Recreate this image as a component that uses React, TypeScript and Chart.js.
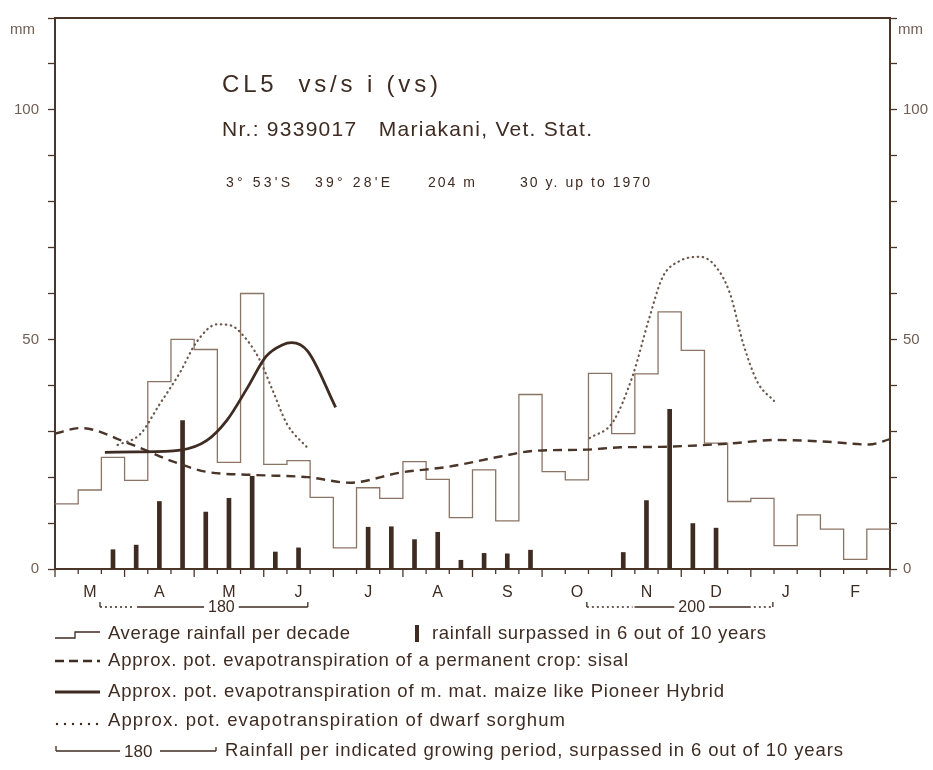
import React, { useEffect, useRef } from 'react';
import { Chart, registerables } from 'chart.js';

Chart.register(...registerables);

// ---------- data ----------
const MONTHS = ['M', 'A', 'M', 'J', 'J', 'A', 'S', 'O', 'N', 'D', 'J', 'F'];
const Y_LABELS = [0, 50, 100];

// average rainfall per decade (36 decades, March .. February), mm
const DECADE_RAIN = [
  14.2, 17.2, 24.3, 19.3, 40.8, 50, 47.8, 23.2, 60, 22.8, 23.6, 15.6,
  4.6, 17.7, 15.4, 23.4, 19.5, 11.2, 21.6, 10.5, 38, 21.2, 19.4, 42.6,
  29.5, 42.5, 56, 47.6, 27.4, 14.7, 15.4, 5.1, 11.8, 8.7, 2.1, 8.7,
];

// rainfall surpassed in 6 out of 10 years, per decade, mm
const RAIN_6_OF_10 = [
  null, null, 4.2, 5.2, 14.7, 32.3, 12.4, 15.4, 20.2, 3.7, 4.6, null,
  null, 9.1, 9.2, 6.4, 8, 1.9, 3.4, 3.3, 4.1, null, null, null,
  3.6, 14.9, 34.8, 9.9, 8.9, null, null, null, null, null, null, null,
];

// pot. evapotranspiration, permanent crop sisal (x in decades)
const SISAL_X = [0, 1.1, 3.2, 5.1, 6.5, 8.5, 10.9, 12.7, 14.9, 17, 19.2, 20.6, 22.9, 24.4, 26.1, 29, 31.1, 33.3, 35.1, 36];
const SISAL_Y = [29.5, 30.7, 27.3, 23.4, 21.2, 20.5, 20, 18.8, 21, 22.3, 24.5, 25.7, 26, 26.5, 26.6, 27.3, 28.1, 27.7, 27.1, 28.3];

// pot. evapotranspiration, m. mat. maize
const MAIZE_X = [2.15, 3.5, 5.4, 6.55, 7.4, 8.3, 9.1, 9.8, 10.2, 10.9, 12.1];
const MAIZE_Y = [25.4, 25.5, 25.9, 28, 32.3, 39.5, 46.3, 48.8, 49.3, 47.4, 35.2];

// pot. evapotranspiration, dwarf sorghum (two seasons)
const SORGHUM1_X = [2.7, 3.66, 4.5, 5.4, 6.1, 7.0, 7.6, 8.0, 8.8, 9.4, 10.0, 10.9];
const SORGHUM1_Y = [27, 29.3, 35.8, 42.9, 49.4, 53.3, 53, 51.5, 45.8, 38.7, 31.6, 26.3];
const SORGHUM2_X = [23.05, 24.05, 24.9, 25.6, 26.2, 26.9, 27.8, 28.5, 29.1, 29.7, 30.3, 31.0];
const SORGHUM2_Y = [28.5, 32, 42, 54.3, 63.6, 67, 68, 65.8, 60, 48.6, 40.6, 36.6];

// growing periods: rainfall surpassed in 6 out of 10 years (mm), extents in decades
const PERIOD_VALUES = ['180', '200'];
const PERIOD_START = [1.94, 22.93];
const PERIOD_DOT_END = [3.45, 24.9];
const PERIOD_DOT_TAIL = [null, 30.0];
const PERIOD_END = [10.9, 30.95];

// ---------- style ----------
const FONT = '"Liberation Sans", Arial, Helvetica, sans-serif';
const DARK = '#3e2b21';
const AXIS = '#4a3529';
const HIST = '#8c7465';
const DOTS = '#6b574b';
const GRAY = '#6f5f55';

function drawText(ctx, s, x, y, size, width, color, weight = 'normal') {
  ctx.save();
  ctx.font = `${weight} ${size}px ${FONT}`;
  ctx.fillStyle = color;
  ctx.textBaseline = 'middle';
  ctx.textAlign = 'left';
  const nat = ctx.measureText(s).width;
  if (width && width > nat && 'letterSpacing' in ctx && s.length > 1) {
    const sp = (width - nat) / (s.length - 1);
    ctx.letterSpacing = `${sp}px`;
    ctx.fillText(s, x, y);
  } else if (width) {
    ctx.translate(x, y);
    ctx.scale(width / nat, 1);
    ctx.fillText(s, 0, 0);
  } else {
    ctx.fillText(s, x, y);
  }
  ctx.restore();
}

function line(ctx, x1, y1, x2, y2, w, color, dash = []) {
  ctx.save();
  ctx.strokeStyle = color;
  ctx.lineWidth = w;
  ctx.setLineDash(dash);
  ctx.beginPath();
  ctx.moveTo(x1, y1);
  ctx.lineTo(x2, y2);
  ctx.stroke();
  ctx.restore();
}

const decorPlugin = {
  id: 'decor',
  beforeDraw(chart) {
    const ctx = chart.ctx;
    ctx.save();
    ctx.fillStyle = '#ffffff';
    ctx.fillRect(0, 0, chart.width, chart.height);
    ctx.restore();
  },
  afterDraw(chart) {
    const ctx = chart.ctx;
    const { left, right, top, bottom } = chart.chartArea;
    const xs = chart.scales.x;
    const px = (u) => xs.getPixelForValue(u);

    // top frame
    line(ctx, left - 1, top, right + 1, top, 2, AXIS);

    // decade ticks on x axis
    for (let i = 0; i <= 36; i++) {
      const p = px(i);
      line(ctx, p, bottom, p, bottom + (i % 3 === 0 ? 8 : 5), 1.3, AXIS);
    }

    // mm labels
    drawText(ctx, 'mm', 10, 30, 15, 0, GRAY);
    drawText(ctx, 'mm', 898, 30, 15, 0, GRAY);

    // title block
    drawText(ctx, 'CL5  vs/s i (vs)', 222, 85, 24, 216, DARK);
    drawText(ctx, 'Nr.: 9339017   Mariakani, Vet. Stat.', 222, 130, 21, 370, DARK);
    drawText(ctx, "3° 53'S", 226, 183, 14, 64, DARK);
    drawText(ctx, "39° 28'E", 315, 183, 14, 75, DARK);
    drawText(ctx, '204 m', 428, 183, 14, 47, DARK);
    drawText(ctx, '30 y. up to 1970', 520, 183, 14, 130, DARK);

    // growing period brackets
    const by = 607;
    for (let k = 0; k < PERIOD_VALUES.length; k++) {
      const s = px(PERIOD_START[k]);
      const d = px(PERIOD_DOT_END[k]);
      const e = px(PERIOD_END[k]);
      const tail = PERIOD_DOT_TAIL[k] != null ? px(PERIOD_DOT_TAIL[k]) : e;
      ctx.save();
      ctx.font = `16px ${FONT}`;
      const tw = ctx.measureText(PERIOD_VALUES[k]).width;
      ctx.restore();
      const mid = (d + tail) / 2;
      line(ctx, s, by - 5, s, by, 1.3, DARK);
      line(ctx, s, by, d, by, 1.3, DARK, [2, 3]);
      line(ctx, d + 2, by, mid - tw / 2 - 4, by, 1.3, DARK);
      drawText(ctx, PERIOD_VALUES[k], mid - tw / 2, by + 1, 16, 0, DARK);
      line(ctx, mid + tw / 2 + 4, by, tail, by, 1.3, DARK);
      if (tail !== e) line(ctx, tail + 3, by, e, by, 1.3, DARK, [2, 3]);
      line(ctx, e, by, e, by - 5, 1.3, DARK);
    }

    // legend
    const r1 = 634, r2 = 661, r3 = 692, r4 = 721, r5 = 751;
    const LS = 18.5;
    ctx.save();
    ctx.strokeStyle = DARK;
    ctx.lineWidth = 1.3;
    ctx.beginPath();
    ctx.moveTo(55, r1 + 4);
    ctx.lineTo(75, r1 + 4);
    ctx.lineTo(75, r1 - 2);
    ctx.lineTo(100, r1 - 2);
    ctx.stroke();
    ctx.restore();
    drawText(ctx, 'Average rainfall per decade', 108, r1, LS, 242, DARK);
    ctx.fillStyle = DARK;
    ctx.fillRect(415, r1 - 9, 4, 17);
    drawText(ctx, 'rainfall surpassed in 6 out of 10 years', 432, r1, LS, 334, DARK);

    line(ctx, 55, r2, 100, r2, 2.6, DARK, [9, 5]);
    drawText(ctx, 'Approx. pot. evapotranspiration of a permanent crop: sisal', 108, r2, LS, 520, DARK);

    line(ctx, 55, r3, 100, r3, 2.8, DARK);
    drawText(ctx, 'Approx. pot. evapotranspiration of m. mat. maize like Pioneer Hybrid', 108, r3, LS, 616, DARK);

    ctx.save();
    ctx.fillStyle = DARK;
    for (let i = 0; i < 6; i++) {
      ctx.beginPath();
      ctx.arc(57 + i * 8, r4 + 3, 1.2, 0, Math.PI * 2);
      ctx.fill();
    }
    ctx.restore();
    drawText(ctx, 'Approx. pot. evapotranspiration of dwarf sorghum', 108, r4, LS, 457, DARK);

    line(ctx, 56, r5 - 5, 56, r5, 1.3, DARK);
    line(ctx, 56, r5, 120, r5, 1.3, DARK);
    drawText(ctx, '180', 124, r5 + 1, 17, 0, DARK);
    line(ctx, 160, r5, 216, r5, 1.3, DARK);
    line(ctx, 216, r5, 216, r5 - 4, 1.3, DARK);
    drawText(ctx, 'Rainfall per indicated growing period, surpassed in 6 out of 10 years', 225, r5, LS, 618, DARK);
  },
};

const yAxis = (position, padding, width) => ({
  type: 'linear',
  position,
  min: 0,
  max: 120,
  ticks: {
    stepSize: 10,
    autoSkip: false,
    padding,
    color: GRAY,
    font: { size: 15, family: FONT },
    callback: (v) => (Y_LABELS.includes(Number(v)) ? String(v) : ''),
  },
  grid: { display: true, drawOnChartArea: false, drawTicks: true, tickLength: 7, tickColor: AXIS, tickWidth: 1.3 },
  border: { display: true, color: AXIS, width: 2 },
  afterFit: (s) => {
    s.width = width;
  },
});

export default function App() {
  const ref = useRef(null);
  useEffect(() => {
    const histData = DECADE_RAIN.map((v, i) => ({ x: i, y: v }));
    histData.push({ x: 36, y: DECADE_RAIN[35] });
    const barData = RAIN_6_OF_10.map((v, i) => (v == null ? null : { x: i + 0.5, y: v })).filter(Boolean);
    const pts = (xs, ys) => xs.map((x, i) => ({ x, y: ys[i] }));

    const chart = new Chart(ref.current, {
      type: 'line',
      data: {
        datasets: [
          {
            type: 'line',
            label: 'Average rainfall per decade',
            data: histData,
            stepped: 'before',
            borderColor: HIST,
            borderWidth: 1.3,
            pointRadius: 0,
            fill: false,
            order: 5,
          },
          {
            type: 'bar',
            label: 'rainfall surpassed in 6 out of 10 years',
            data: barData,
            backgroundColor: DARK,
            barThickness: 4,
            order: 4,
          },
          {
            type: 'line',
            label: 'sisal',
            data: pts(SISAL_X, SISAL_Y),
            borderColor: AXIS,
            borderWidth: 2.4,
            borderDash: [9, 6],
            cubicInterpolationMode: 'monotone',
            pointRadius: 0,
            fill: false,
            order: 3,
          },
          {
            type: 'line',
            label: 'maize',
            data: pts(MAIZE_X, MAIZE_Y),
            borderColor: DARK,
            borderWidth: 2.8,
            cubicInterpolationMode: 'monotone',
            pointRadius: 0,
            fill: false,
            order: 1,
          },
          {
            type: 'line',
            label: 'sorghum 1',
            data: pts(SORGHUM1_X, SORGHUM1_Y),
            borderColor: DOTS,
            borderWidth: 2.2,
            borderDash: [0.5, 4.5],
            borderCapStyle: 'round',
            cubicInterpolationMode: 'monotone',
            pointRadius: 0,
            fill: false,
            order: 2,
          },
          {
            type: 'line',
            label: 'sorghum 2',
            data: pts(SORGHUM2_X, SORGHUM2_Y),
            borderColor: DOTS,
            borderWidth: 2.2,
            borderDash: [0.5, 4.5],
            borderCapStyle: 'round',
            cubicInterpolationMode: 'monotone',
            pointRadius: 0,
            fill: false,
            order: 2,
          },
        ],
      },
      options: {
        animation: false,
        responsive: false,
        maintainAspectRatio: false,
        layout: { padding: { top: 12, left: 0, right: 0, bottom: 0 } },
        plugins: { legend: { display: false }, tooltip: { enabled: false }, title: { display: false } },
        scales: {
          x: {
            type: 'linear',
            min: 0,
            max: 36,
            offset: false,
            afterBuildTicks: (s) => {
              s.ticks = MONTHS.map((_, i) => ({ value: i * 3 + 1.5 }));
            },
            ticks: {
              autoSkip: false,
              maxRotation: 0,
              minRotation: 0,
              padding: 6,
              color: DARK,
              font: { size: 16, family: FONT },
              callback: (v, i) => MONTHS[i],
            },
            grid: { display: false },
            border: { display: true, color: AXIS, width: 2 },
            afterFit: (s) => {
              s.height = 201;
            },
          },
          y: yAxis('left', 9, 55),
          y2: yAxis('right', 6, 43),
        },
      },
      plugins: [decorPlugin],
    });
    return () => chart.destroy();
  }, []);

  return (
    <div style={{ position: 'absolute', left: 0, top: 0, width: 933, height: 770, background: '#fff' }}>
      <canvas ref={ref} width={933} height={770} style={{ display: 'block', width: 933, height: 770 }} />
    </div>
  );
}
